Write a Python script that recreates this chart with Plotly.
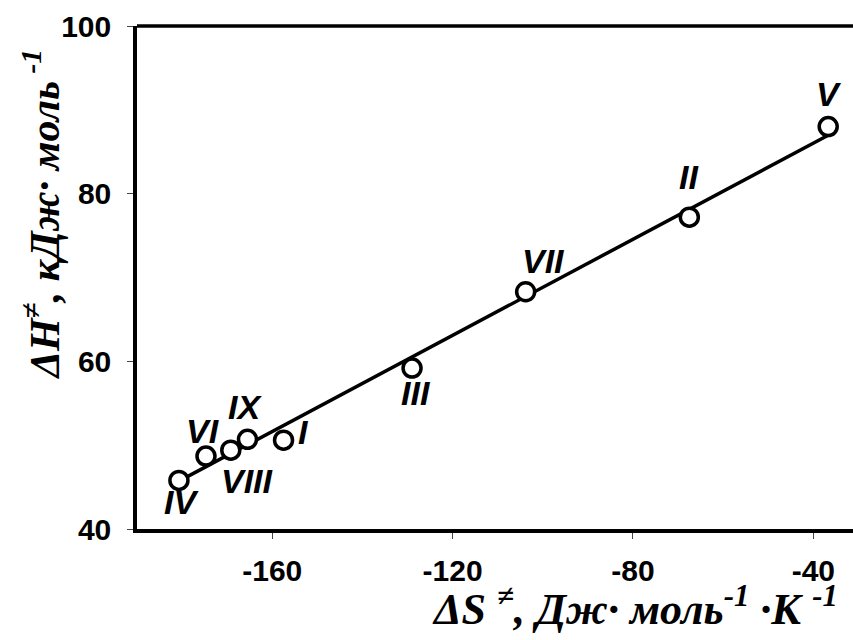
import numpy as np
import plotly.graph_objects as go

labels = ["I", "II", "III", "IV", "V", "VI", "VII", "VIII", "IX"]
dS = [-157.5, -67.5, -129.0, -180.7, -36.7, -174.7, -103.8, -169.2, -165.5]
dH = [50.6, 77.2, 59.2, 45.8, 88.0, 48.7, 68.3, 49.4, 50.7]
# label offsets in pixels (ax, ay) relative to each point
label_offsets = {
    "I": (20, -8), "II": (0, -40), "III": (4, 25), "IV": (3, 22),
    "V": (1, -33), "VI": (-3, -25), "VII": (18, -31), "VIII": (17, 31), "IX": (-2, -32),
}

x_ticks = [-160, -120, -80, -40]
y_ticks = [40, 60, 80, 100]

slope, intercept = np.polyfit(dS, dH, 1)
fit_x = np.array([min(dS), max(dS)])
fit_y = slope * fit_x + intercept

fig = go.Figure()
fig.add_trace(go.Scatter(x=fit_x, y=fit_y, mode="lines",
                         line=dict(color="black", width=3.5), hoverinfo="skip"))
fig.add_trace(go.Scatter(x=dS, y=dH, mode="markers",
                         marker=dict(symbol="circle", size=18, color="white",
                                     line=dict(color="black", width=3.5))))

for lab, xv, yv in zip(labels, dS, dH):
    ax, ay = label_offsets[lab]
    fig.add_annotation(x=xv, y=yv, text=lab, showarrow=True, arrowcolor="rgba(0,0,0,0)",
                       ax=ax, ay=ay, xanchor="center", yanchor="middle",
                       font=dict(family="Liberation Sans", size=34, color="black",
                                 weight="bold", style="italic"))

fig.add_annotation(xref="paper", yref="paper", x=0.695, y=-0.155,
                   text="ΔS <sup>≠</sup>, Дж· моль<sup>-1</sup> ·К <sup>-1</sup>",
                   showarrow=False, xanchor="center", yanchor="middle",
                   font=dict(family="Liberation Serif", size=44, color="black",
                             weight="bold", style="italic"))
fig.add_annotation(xref="paper", yref="paper", x=-0.133, y=0.625,
                   text="ΔH<sup>≠</sup>, кДж· моль<sup> -1</sup>", textangle=-90,
                   showarrow=False, xanchor="center", yanchor="middle",
                   font=dict(family="Liberation Serif", size=42, color="black",
                             weight="bold", style="italic"))

# top frame line
fig.add_shape(type="line", xref="paper", yref="paper", x0=0, x1=1, y0=1, y1=1,
              line=dict(color="black", width=3.5))

tick_font = dict(family="Liberation Sans", size=30, color="black", weight="bold")
fig.update_xaxes(range=[-190, -31.2], tickvals=x_ticks, ticktext=[str(v) for v in x_ticks],
                 showline=True, linecolor="black", linewidth=3.5,
                 ticks="outside", ticklen=6, tickwidth=1, tickcolor="#444",
                 showgrid=False, zeroline=False, tickfont=tick_font, ticklabelstandoff=6)
fig.update_yaxes(range=[40, 100], tickvals=y_ticks, ticktext=[str(v) for v in y_ticks],
                 showline=True, linecolor="black", linewidth=3.5,
                 ticks="outside", ticklen=6, tickwidth=1, tickcolor="#444",
                 showgrid=False, zeroline=False, tickfont=tick_font, ticklabelstandoff=10)

fig.update_layout(width=853, height=640, margin=dict(l=137, r=0, t=26, b=111),
                  plot_bgcolor="white", paper_bgcolor="white", showlegend=False)

fig.write_html("out.html")
